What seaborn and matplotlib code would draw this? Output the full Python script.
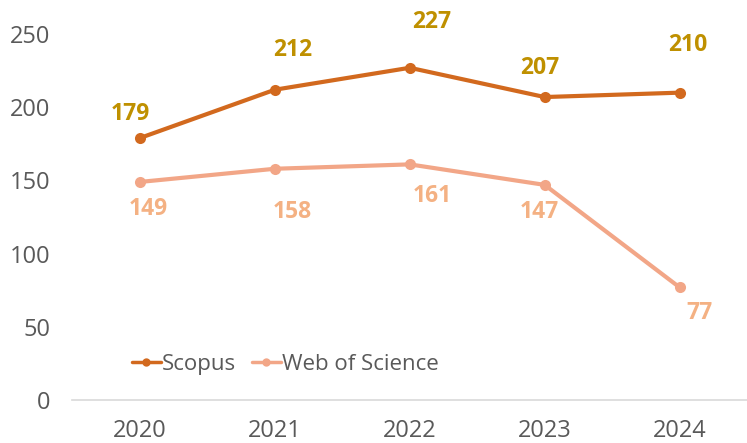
import numpy as np
import pandas as pd
from matplotlib import pyplot as plt
import seaborn as sns

years = ["2020", "2021", "2022", "2023", "2024"]
scopus = [179, 212, 227, 207, 210]
wos = [149, 158, 161, 147, 77]

# label nudges in pixels (dx, dy)
scopus_offsets = [(-10, 24), (18, 40), (22, 46), (-5, 29), (8, 48)]
wos_offsets = [(8, -27), (17, -43), (23, -32), (-5, -27), (20, -26)]

sns.set_theme(style="white")
plt.rcParams["font.family"] = ["Open Sans", "DejaVu Sans"]

df = pd.DataFrame({
    "year": years * 2,
    "count": scopus + wos,
    "source": ["Scopus"] * 5 + ["Web of Science"] * 5,
})

fig = plt.figure(figsize=(7.47, 4.43), dpi=100)
ax = fig.add_axes([0.097, 0.097, 0.903, 0.826])

palette = {"Scopus": "#D2691E", "Web of Science": "#F2A687"}
sns.lineplot(data=df, x="year", y="count", hue="source", palette=palette,
             marker="o", markersize=8, markeredgewidth=0, linewidth=3,
             sort=False, ax=ax)

ax.set_xlim(-0.5, 4.5)
ax.set_ylim(0, 250)
ax.set_yticks(np.arange(0, 251, 50))
ax.set_xlabel("")
ax.set_ylabel("")
ax.tick_params(axis="both", labelsize=17, colors="#595959", length=0)
ax.tick_params(axis="x", pad=14)
ax.tick_params(axis="y", pad=16)

for s in ["top", "right", "left"]:
    ax.spines[s].set_visible(False)
ax.spines["bottom"].set_color("#D9D9D9")
ax.spines["bottom"].set_linewidth(1.2)

for i, v in enumerate(scopus):
    dx, dy = scopus_offsets[i]
    ax.annotate(str(v), (i, v), xytext=(dx, dy), textcoords="offset pixels",
                ha="center", va="center", fontsize=16.5, fontweight="bold",
                color="#BF9000", annotation_clip=False)
for i, v in enumerate(wos):
    dx, dy = wos_offsets[i]
    ax.annotate(str(v), (i, v), xytext=(dx, dy), textcoords="offset pixels",
                ha="center", va="center", fontsize=16.5, fontweight="bold",
                color="#F4B183", annotation_clip=False)

leg = ax.legend(loc="lower left", bbox_to_anchor=(0.075, 0.045), ncol=2,
                frameon=False, fontsize=16, handlelength=1.3,
                handletextpad=0.05, columnspacing=0.7, borderaxespad=0)
for t in leg.get_texts():
    t.set_color("#595959")
for h in leg.legend_handles:
    h.set_markersize(6)
    h.set_linewidth(2.5)

fig.savefig("out.png", dpi=100)
